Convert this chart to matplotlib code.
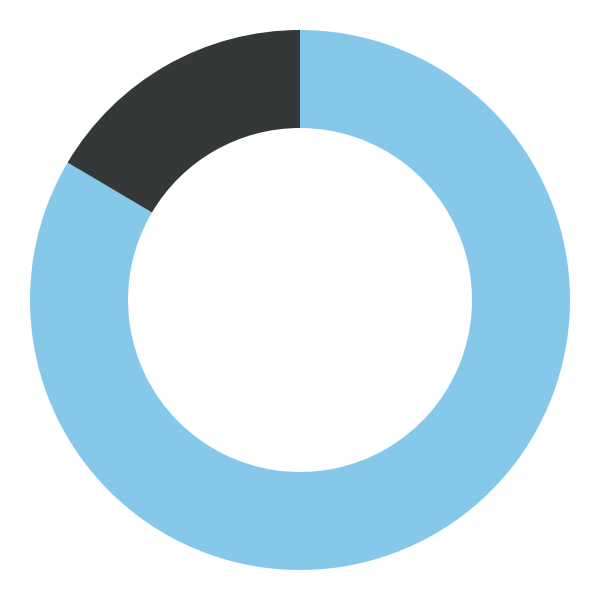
import matplotlib
matplotlib.use('Agg')
import matplotlib.pyplot as plt

# slice values, clockwise from 12 o'clock
labels = ['A', 'B']
values = [83.5, 16.5]
colors = ['#85C8E9', '#343839']

fig = plt.figure(figsize=(6, 6), dpi=100)
ax = fig.add_axes([0, 0, 1, 1])

# outer radius 270 px, inner 172 px on a 600 px canvas
ax.pie(values, colors=colors, startangle=90, counterclock=False,
       radius=1.0, wedgeprops=dict(width=0.363, linewidth=0))
lim = 300 / 270
ax.set_xlim(-lim, lim)
ax.set_ylim(-lim, lim)
ax.set_aspect('equal')
ax.axis('off')

fig.savefig('out.png', dpi=100, facecolor='white')
